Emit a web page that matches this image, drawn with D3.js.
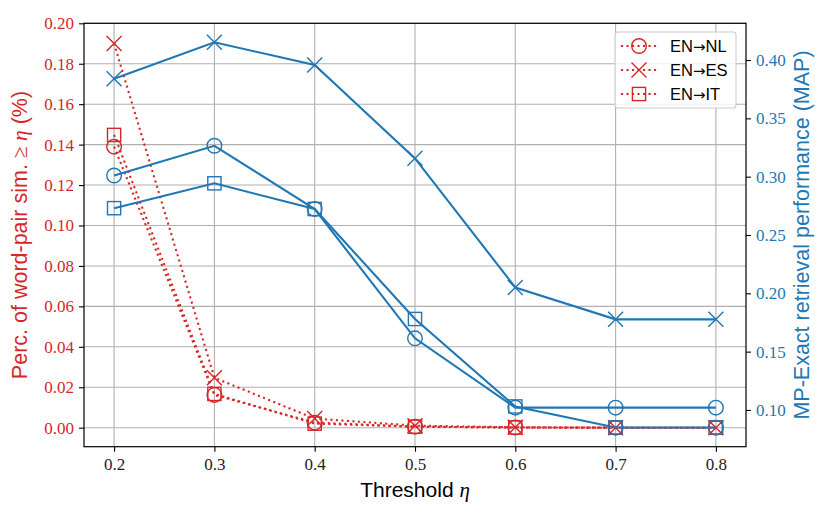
<!DOCTYPE html>
<html>
<head>
<meta charset="utf-8">
<script src="https://cdn.jsdelivr.net/npm/d3@7"></script>
<style>
html,body{margin:0;padding:0;background:#fff;}
svg{display:block;}
</style>
</head>
<body>
<svg id="chart" width="830" height="519"></svg>
<script>
// ---- data ----
const thresholds = [0.2, 0.3, 0.4, 0.5, 0.6, 0.7, 0.8];
const percNL = [0.139, 0.0162, 0.0025, 0.0005, 0.0001, 0, 0];
const percES = [0.190, 0.0247, 0.0045, 0.001, 0.0002, 0, 0];
const percIT = [0.1448, 0.0167, 0.002, 0.0005, 0.0001, 0, 0];
const mapNL = [0.301, 0.3265, 0.2723, 0.1614, 0.102, 0.102, 0.102];
const mapES = [0.384, 0.4152, 0.3957, 0.3157, 0.205, 0.1777, 0.1777];
const mapIT = [0.273, 0.2943, 0.2723, 0.178, 0.103, 0.085, 0.085];
const xTicks = [0.2, 0.3, 0.4, 0.5, 0.6, 0.7, 0.8];
const leftTicks = [0, 0.02, 0.04, 0.06, 0.08, 0.10, 0.12, 0.14, 0.16, 0.18, 0.20];
const rightTicks = [0.10, 0.15, 0.20, 0.25, 0.30, 0.35, 0.40];
const langs = ["NL", "ES", "IT"];
const markers = {NL: "circle", ES: "x", IT: "square"};

const RED = "#d62728", BLUE = "#1f77b4";
const L = 84, R = 746, T = 23.3, B = 446.7;

const svg = d3.select("#chart");
const x = d3.scaleLinear().domain([0.17, 0.83]).range([L, R]);
const yL = d3.scaleLinear().domain([-0.0094, 0.2]).range([B, T]);
const yR = d3.scaleLinear().domain([0.0685, 0.4315]).range([B, T]);

const serif = "'Liberation Serif', 'DejaVu Serif', serif";
const sans = "'Liberation Sans', 'DejaVu Sans', sans-serif";

// grid
const grid = svg.append("g");
grid.selectAll("line.gx").data(xTicks).enter().append("line")
  .attr("x1", d => x(d)).attr("x2", d => x(d)).attr("y1", T).attr("y2", B)
  .attr("stroke", "#b0b0b0").attr("stroke-width", 1.1);
grid.selectAll("line.gy").data(leftTicks).enter().append("line")
  .attr("x1", L).attr("x2", R).attr("y1", d => yL(d)).attr("y2", d => yL(d))
  .attr("stroke", "#b0b0b0").attr("stroke-width", 1.1);

function drawMarker(g, type, cx, cy, color) {
  if (type === "circle") {
    g.append("circle").attr("cx", cx).attr("cy", cy).attr("r", 7.3)
      .attr("fill", "none").attr("stroke", color).attr("stroke-width", 1.4);
  } else if (type === "square") {
    g.append("rect").attr("x", cx - 6.6).attr("y", cy - 6.6).attr("width", 13.2).attr("height", 13.2)
      .attr("fill", "none").attr("stroke", color).attr("stroke-width", 1.4);
  } else {
    const s = 7.5;
    g.append("path").attr("d", `M${cx - s},${cy - s}L${cx + s},${cy + s}M${cx - s},${cy + s}L${cx + s},${cy - s}`)
      .attr("fill", "none").attr("stroke", color).attr("stroke-width", 1.4);
  }
}

const percData = {NL: percNL, ES: percES, IT: percIT};
const mapData = {NL: mapNL, ES: mapES, IT: mapIT};

// red series (left axis)
const redG = svg.append("g");
langs.forEach(k => {
  const pts = thresholds.map((t, i) => [t, percData[k][i]]);
  redG.append("path").datum(pts)
    .attr("d", d3.line().x(d => x(d[0])).y(d => yL(d[1])))
    .attr("fill", "none").attr("stroke", RED).attr("stroke-width", 2.1)
    .attr("stroke-dasharray", "2.1,3.4");
  pts.forEach(p => drawMarker(redG, markers[k], x(p[0]), yL(p[1]), RED));
});

// legend
const lg = svg.append("g");
lg.append("rect").attr("x", 615).attr("y", 32).attr("width", 121).attr("height", 76)
  .attr("rx", 3).attr("fill", "#fff").attr("fill-opacity", 0.8)
  .attr("stroke", "#cccccc").attr("stroke-width", 1.1);
const legendLabels = {NL: "NL", ES: "ES", IT: "IT"};
langs.forEach((k, i) => {
  const cy = 46 + i * 24;
  lg.append("line").attr("x1", 621).attr("x2", 657).attr("y1", cy).attr("y2", cy)
    .attr("stroke", RED).attr("stroke-width", 2.1).attr("stroke-dasharray", "2.1,3.4");
  drawMarker(lg, markers[k], 639, cy, RED);
  const t = lg.append("text").attr("x", 670).attr("y", cy + 6)
    .style("font-family", sans).style("font-size", "16.5px").attr("fill", "#000");
  t.append("tspan").text("EN");
  t.append("tspan").style("font-family", "'DejaVu Sans', sans-serif").style("font-size", "15px").text("→");
  t.append("tspan").text(legendLabels[k]);
});

// blue series (right axis)
const blueG = svg.append("g");
langs.forEach(k => {
  const pts = thresholds.map((t, i) => [t, mapData[k][i]]);
  blueG.append("path").datum(pts)
    .attr("d", d3.line().x(d => x(d[0])).y(d => yR(d[1])))
    .attr("fill", "none").attr("stroke", BLUE).attr("stroke-width", 2.1);
  pts.forEach(p => drawMarker(blueG, markers[k], x(p[0]), yR(p[1]), BLUE));
});

// spines
svg.append("rect").attr("x", L).attr("y", T).attr("width", R - L).attr("height", B - T)
  .attr("fill", "none").attr("stroke", "#000").attr("stroke-width", 1.2);

// axes
const axB = svg.append("g").attr("transform", `translate(0,${B})`)
  .call(d3.axisBottom(x).tickValues(xTicks).tickFormat(d3.format(".1f")).tickSize(5).tickPadding(6));
const axL = svg.append("g").attr("transform", `translate(${L},0)`)
  .call(d3.axisLeft(yL).tickValues(leftTicks).tickFormat(d3.format(".2f")).tickSize(5).tickPadding(5));
const axR = svg.append("g").attr("transform", `translate(${R},0)`)
  .call(d3.axisRight(yR).tickValues(rightTicks).tickFormat(d3.format(".2f")).tickSize(5).tickPadding(5));
[axB, axL, axR].forEach(a => {
  a.attr("font-family", null).attr("font-size", null);
  a.select(".domain").remove();
  a.selectAll(".tick line").attr("stroke", "#000").attr("stroke-width", 1.1);
  a.selectAll(".tick text").style("font-family", serif).style("font-size", "17px");
});
axB.selectAll(".tick text").attr("fill", "#222");
axL.selectAll(".tick text").attr("fill", RED);
axR.selectAll(".tick text").attr("fill", BLUE);

// axis labels
const xl = svg.append("text").attr("x", (L + R) / 2).attr("y", 497).attr("text-anchor", "middle")
  .style("font-family", sans).style("font-size", "21px").attr("fill", "#000");
xl.append("tspan").text("Threshold ");
xl.append("tspan").style("font-family", serif).style("font-style", "italic").text("η");

const ylab = svg.append("text").attr("transform", `translate(27,${(T + B) / 2}) rotate(-90)`)
  .attr("text-anchor", "middle").style("font-family", sans).style("font-size", "21.5px").attr("fill", RED);
ylab.append("tspan").text("Perc. of word-pair sim. ");
ylab.append("tspan").style("font-family", serif).text("≥ ");
ylab.append("tspan").style("font-family", serif).style("font-style", "italic").text("η");
ylab.append("tspan").text(" (%)");

svg.append("text").attr("transform", `translate(809,${(T + B) / 2}) rotate(-90)`)
  .attr("text-anchor", "middle").style("font-family", sans).style("font-size", "21.5px").attr("fill", BLUE)
  .text("MP-Exact retrieval performance (MAP)");
</script>
</body>
</html>
